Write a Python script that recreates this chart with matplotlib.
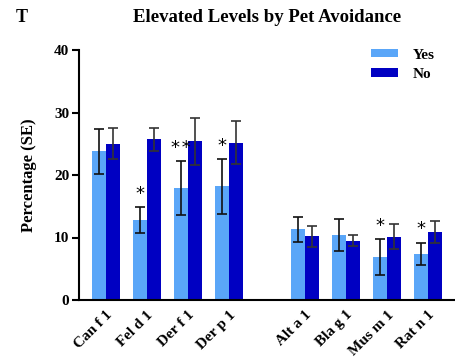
import numpy as np
import matplotlib.pyplot as plt

plt.rcParams['font.family'] = ['Liberation Serif', 'DejaVu Serif']
plt.rcParams['font.weight'] = 'bold'

allergens = ['Can f 1', 'Fel d 1', 'Der f 1', 'Der p 1',
             'Alt a 1', 'Bla g 1', 'Mus m 1', 'Rat n 1']
yes_vals = [23.8, 12.8, 17.9, 18.2, 11.3, 10.4, 6.9, 7.4]
yes_err = [3.6, 2.1, 4.3, 4.4, 2.0, 2.5, 2.9, 1.8]
no_vals = [25.0, 25.7, 25.4, 25.2, 10.2, 9.5, 10.1, 10.9]
no_err = [2.5, 1.9, 3.8, 3.5, 1.65, 0.85, 2.0, 1.7]
stars = ['', '*', '*\u200a*', '*', '', '', '*', '*']

light = '#5aa6f8'
dark = '#0000c2'

# two blocks of four groups with a gap between them
x = np.array([0, 1, 2, 3, 4.86, 5.86, 6.86, 7.86])
w = 0.345

fig = plt.figure(figsize=(4.55, 3.58), dpi=100)
ax = fig.add_axes([79 / 455, 58 / 358, 376 / 455, 250 / 358])

ax.bar(x - w / 2, yes_vals, w, color=light, label='Yes',
       yerr=yes_err, capsize=3.5, error_kw=dict(elinewidth=1.2, capthick=1.2, ecolor='#111111'))
ax.bar(x + w / 2, no_vals, w, color=dark, label='No',
       yerr=no_err, capsize=3.5, error_kw=dict(elinewidth=1.2, capthick=1.2, ecolor='#333333'))

for xi, v, e, s in zip(x, yes_vals, yes_err, stars):
    if s:
        ax.annotate(s, (xi - w / 2, v + e), xytext=(0, 3), textcoords='offset points',
                    ha='center', va='bottom', fontsize=13, fontweight='normal',
                    family='DejaVu Sans')

ax.set_xlim(-0.65, 8.52)
ax.set_ylim(0, 40)
ax.set_yticks([0, 10, 20, 30, 40])
ax.set_xticks(x)
ax.set_xticklabels(allergens, rotation=45, ha='right', rotation_mode='anchor',
                   fontsize=11, fontweight='bold')
ax.tick_params(axis='x', length=0, pad=6)
ax.tick_params(axis='y', length=5, width=1.5, labelsize=11, pad=2)
for lab in ax.get_yticklabels():
    lab.set_fontweight('bold')

for side in ['top', 'right']:
    ax.spines[side].set_visible(False)
ax.spines['left'].set_linewidth(1.5)
ax.spines['bottom'].set_linewidth(1.5)

ax.set_ylabel('Percentage (SE)', fontsize=12, fontweight='bold', labelpad=12)

leg = ax.legend(loc='upper right', bbox_to_anchor=(0.983, 1.06), frameon=False,
                fontsize=11, handlelength=1.75, handleheight=0.45, handletextpad=1.0,
                labelspacing=0.4)
for t in leg.get_texts():
    t.set_fontweight('bold')

fig.text(267 / 455, 1 - 18 / 358, 'Elevated Levels by Pet Avoidance',
         ha='center', va='center', fontsize=13.5, fontweight='bold')
fig.text(22 / 455, 1 - 18 / 358, 'T', ha='center', va='center',
         fontsize=13, fontweight='bold')

fig.savefig('out.png', dpi=100)
